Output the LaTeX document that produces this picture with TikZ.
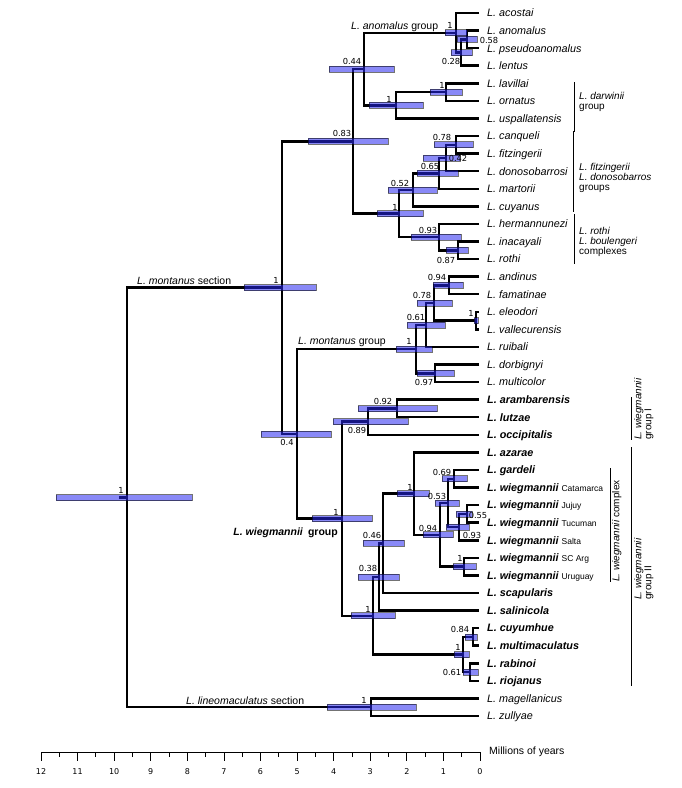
\documentclass[tikz,border=0pt]{standalone}
\usepackage{fontspec}
\setmainfont{Liberation Sans}
\newfontfamily\numfont{DejaVu Sans}
\newcommand\locfont{\fontsize{8.5}{10}\selectfont\upshape\mdseries}
\begin{document}
\begin{tikzpicture}[x=1pt,y=-1pt,
  br/.style={line width=2.5pt, line join=miter},
  bar/.style={fill={rgb,255:red,40;green,40;blue,240}, fill opacity=0.55, draw=black, draw opacity=0.55, line width=0.7pt},
  tip/.style={anchor=west, inner sep=0pt, text height=7.7pt, text depth=0pt, font=\fontsize{10.8}{12}\selectfont\itshape},
  btip/.style={tip, font=\fontsize{10.8}{12}\selectfont\bfseries\itshape},
  pp/.style={inner sep=0pt, text height=6pt, text depth=0pt, font=\numfont\fontsize{8.3}{9}\selectfont},
  glab/.style={inner sep=0pt, anchor=base west, font=\fontsize{10.5}{12}\selectfont},
  side/.style={inner sep=0pt, align=left, font=\fontsize{10}{10}\selectfont},
  bracket/.style={line width=1pt}
]
\useasboundingbox (0,0) rectangle (682,788);
\newcommand\hpd[3]{\draw[bar] (#1,#3-3) rectangle (#2,#3+3);}
% tips
\foreach \i in {0,...,40} {\coordinate (t\i) at (479,13+17.575*\i);}
% internal nodes
\coordinate (C) at (467,39.4);
\coordinate (B) at (461,52.6);
\coordinate (A) at (456,32.8);
\coordinate (D) at (446,92.1);
\coordinate (E) at (396,105.3);
\coordinate (F) at (364,69.0);
\coordinate (G) at (456,144.8);
\coordinate (H) at (446,158.0);
\coordinate (I) at (439,173.4);
\coordinate (J) at (413,189.9);
\coordinate (K) at (458,250.3);
\coordinate (L) at (439,237.1);
\coordinate (M) at (399,213.5);
\coordinate (N) at (353,141.3);
\coordinate (O) at (449,285.4);
\coordinate (P) at (476,320.6);
\coordinate (Q) at (434,303.0);
\coordinate (R) at (426,325.0);
\coordinate (S) at (435,373.3);
\coordinate (T) at (416,349.2);
\coordinate (U) at (397,408.5);
\coordinate (V) at (368,421.6);
\coordinate (W) at (454,478.8);
\coordinate (X) at (467,513.9);
\coordinate (Y) at (459,527.1);
\coordinate (Z) at (448,503.0);
\coordinate (AA) at (464,566.6);
\coordinate (AB) at (440,534.8);
\coordinate (AC) at (414,493.6);
\coordinate (AD) at (383,543.3);
\coordinate (AE) at (379,577.0);
\coordinate (AF) at (473,636.9);
\coordinate (AG) at (470,672.1);
\coordinate (AH) at (463,654.5);
\coordinate (AI) at (373,615.8);
\coordinate (AJ) at (342,518.7);
\coordinate (AK) at (297,434.0);
\coordinate (AL) at (282,287.7);
\coordinate (AM) at (371,707.2);
\coordinate (ROOT) at (127,497.5);
\coordinate (stub) at (119,497.5);
% branches
\draw[br] (t1) -| (C) |- (t2);
\draw[br] (C) -| (B) |- (t3);
\draw[br] (t0) -| (A) |- (B);
\draw[br] (t4) -| (D) |- (t5);
\draw[br] (D) -| (E) |- (t6);
\draw[br] (A) -| (F) |- (E);
\draw[br] (t7) -| (G) |- (t8);
\draw[br] (G) -| (H) |- (t9);
\draw[br] (H) -| (I) |- (t10);
\draw[br] (I) -| (J) |- (t11);
\draw[br] (t13) -| (K) |- (t14);
\draw[br] (t12) -| (L) |- (K);
\draw[br] (J) -| (M) |- (L);
\draw[br] (F) -| (N) |- (M);
\draw[br] (t15) -| (O) |- (t16);
\draw[br] (t17) -| (P) |- (t18);
\draw[br] (O) -| (Q) |- (P);
\draw[br] (Q) -| (R) |- (t19);
\draw[br] (t20) -| (S) |- (t21);
\draw[br] (R) -| (T) |- (S);
\draw[br] (t22) -| (U) |- (t23);
\draw[br] (U) -| (V) |- (t24);
\draw[br] (t26) -| (W) |- (t27);
\draw[br] (t28) -| (X) |- (t29);
\draw[br] (X) -| (Y) |- (t30);
\draw[br] (W) -| (Z) |- (Y);
\draw[br] (t31) -| (AA) |- (t32);
\draw[br] (Z) -| (AB) |- (AA);
\draw[br] (t25) -| (AC) |- (AB);
\draw[br] (AC) -| (AD) |- (t33);
\draw[br] (AD) -| (AE) |- (t34);
\draw[br] (t35) -| (AF) |- (t36);
\draw[br] (t37) -| (AG) |- (t38);
\draw[br] (AF) -| (AH) |- (AG);
\draw[br] (AE) -| (AI) |- (AH);
\draw[br] (V) -| (AJ) |- (AI);
\draw[br] (T) -| (AK) |- (AJ);
\draw[br] (N) -| (AL) |- (AK);
\draw[br] (t39) -| (AM) |- (t40);
\draw[br] (AL) -| (ROOT) |- (AM);
\draw[br] (stub) -- (ROOT);
% HPD bars
\hpd{457}{477}{39.4}
\hpd{451}{472}{52.6}
\hpd{445}{467}{32.8}
\hpd{430}{462}{92.1}
\hpd{369}{423}{105.3}
\hpd{329}{394}{69.0}
\hpd{434}{473}{144.8}
\hpd{423}{460}{158.0}
\hpd{417}{458}{173.4}
\hpd{388}{437}{189.9}
\hpd{446}{468}{250.3}
\hpd{411}{461}{237.1}
\hpd{377}{423}{213.5}
\hpd{308}{388}{141.3}
\hpd{433}{463}{285.4}
\hpd{474}{478}{320.6}
\hpd{417}{452}{303.0}
\hpd{407}{445}{325.0}
\hpd{417}{454}{373.3}
\hpd{396}{432}{349.2}
\hpd{358}{437}{408.5}
\hpd{333}{408}{421.6}
\hpd{442}{467}{478.8}
\hpd{456}{472}{513.9}
\hpd{446}{469}{527.1}
\hpd{435}{459}{503.0}
\hpd{453}{476}{566.6}
\hpd{423}{453}{534.8}
\hpd{397}{429}{493.6}
\hpd{363}{404}{543.3}
\hpd{358}{399}{577.0}
\hpd{465}{477}{636.9}
\hpd{463}{478}{672.1}
\hpd{454}{469}{654.5}
\hpd{351}{395}{615.8}
\hpd{312}{372}{518.7}
\hpd{261}{331}{434.0}
\hpd{244}{316}{287.7}
\hpd{327}{416}{707.2}
\hpd{56}{192}{497.5}
% posterior labels
\node[pp] (pA) at (450,25) {1};
\node[pp] (pC) at (489,40) {0.58};
\node[pp] (pB) at (451,61) {0.28};
\node[pp] (pD) at (442,85) {1};
\node[pp] (pE) at (389,99) {1};
\node[pp] (pF) at (352,61) {0.44};
\node[pp] (pG) at (442,137) {0.78};
\node[pp] (pH) at (458,158) {0.42};
\node[pp] (pI) at (430,166) {0.65};
\node[pp] (pJ) at (400,183) {0.52};
\node[pp] (pK) at (446,260) {0.87};
\node[pp] (pL) at (428,230) {0.93};
\node[pp] (pM) at (395,207) {1};
\node[pp] (pN) at (342,133) {0.83};
\node[pp] (pO) at (437,277) {0.94};
\node[pp] (pP) at (471,313) {1};
\node[pp] (pQ) at (422,295) {0.78};
\node[pp] (pR) at (416,317) {0.61};
\node[pp] (pS) at (424,382) {0.97};
\node[pp] (pT) at (409,341) {1};
\node[pp] (pU) at (383,401) {0.92};
\node[pp] (pV) at (357,430) {0.89};
\node[pp] (pW) at (442,472) {0.69};
\node[pp] (pX) at (478,515) {0.55};
\node[pp] (pY) at (472,535) {0.93};
\node[pp] (pZ) at (437,496) {0.53};
\node[pp] (pAA) at (460,558) {1};
\node[pp] (pAB) at (428,528) {0.94};
\node[pp] (pAC) at (410,487) {1};
\node[pp] (pAD) at (372,535) {0.46};
\node[pp] (pAE) at (368,568) {0.38};
\node[pp] (pAF) at (460,629) {0.84};
\node[pp] (pAG) at (452,672) {0.61};
\node[pp] (pAH) at (458,647) {1};
\node[pp] (pAI) at (368,609) {1};
\node[pp] (pAJ) at (336,512) {1};
\node[pp] (pAK) at (287,442) {0.4};
\node[pp] (pAL) at (276,280) {1};
\node[pp] (pAM) at (364,700) {1};
\node[pp] (pROOT) at (121,490) {1};
% clade labels
\node[glab] (gan) at (351,29) {\textit{L. anomalus} group};
\node[glab] (gms) at (137,284) {\textit{L. montanus} section};
\node[glab] (gmg) at (298,344) {\textit{L. montanus} group};
\node[glab] (gls) at (186,704) {\textit{L. lineomaculatus} section};
\node[glab, anchor=base east, font=\fontsize{10.5}{12}\selectfont\bfseries] (gwg) at (338,535) {\textit{L. wiegmannii}\hspace{5pt}group};
% tip labels
\node[tip] (l0) at (487,13.000) {L. acostai};
\node[tip] (l1) at (487,30.575) {L. anomalus};
\node[tip] (l2) at (487,48.150) {L. pseudoanomalus};
\node[tip] (l3) at (487,65.725) {L. lentus};
\node[tip] (l4) at (487,83.300) {L. lavillai};
\node[tip] (l5) at (487,100.875) {L. ornatus};
\node[tip] (l6) at (487,118.450) {L. uspallatensis};
\node[tip] (l7) at (487,136.025) {L. canqueli};
\node[tip] (l8) at (487,153.600) {L. fitzingerii};
\node[tip] (l9) at (487,171.175) {L. donosobarrosi};
\node[tip] (l10) at (487,188.750) {L. martorii};
\node[tip] (l11) at (487,206.325) {L. cuyanus};
\node[tip] (l12) at (487,223.900) {L. hermannunezi};
\node[tip] (l13) at (487,241.475) {L. inacayali};
\node[tip] (l14) at (487,259.050) {L. rothi};
\node[tip] (l15) at (487,276.625) {L. andinus};
\node[tip] (l16) at (487,294.200) {L. famatinae};
\node[tip] (l17) at (487,311.775) {L. eleodori};
\node[tip] (l18) at (487,329.350) {L. vallecurensis};
\node[tip] (l19) at (487,346.925) {L. ruibali};
\node[tip] (l20) at (487,364.500) {L. dorbignyi};
\node[tip] (l21) at (487,382.075) {L. multicolor};
\node[btip] (l22) at (487,399.650) {L. arambarensis};
\node[btip] (l23) at (487,417.225) {L. lutzae};
\node[btip] (l24) at (487,434.800) {L. occipitalis};
\node[btip] (l25) at (487,452.375) {L. azarae};
\node[btip] (l26) at (487,469.950) {L. gardeli};
\node[btip] (l27) at (487,487.525) {L. wiegmannii {\locfont Catamarca}};
\node[btip] (l28) at (487,505.100) {L. wiegmannii {\locfont Jujuy}};
\node[btip] (l29) at (487,522.675) {L. wiegmannii {\locfont Tucuman}};
\node[btip] (l30) at (487,540.250) {L. wiegmannii {\locfont Salta}};
\node[btip] (l31) at (487,557.825) {L. wiegmannii {\locfont SC Arg}};
\node[btip] (l32) at (487,575.400) {L. wiegmannii {\locfont Uruguay}};
\node[btip] (l33) at (487,592.975) {L. scapularis};
\node[btip] (l34) at (487,610.550) {L. salinicola};
\node[btip] (l35) at (487,628.125) {L. cuyumhue};
\node[btip] (l36) at (487,645.700) {L. multimaculatus};
\node[btip] (l37) at (487,663.275) {L. rabinoi};
\node[btip] (l38) at (487,680.850) {L. riojanus};
\node[tip] (l39) at (487,698.425) {L. magellanicus};
\node[tip] (l40) at (487,716.000) {L. zullyae};
% side brackets
\coordinate (dw1) at (574,82); \coordinate (dw2) at (574,132);
\draw[bracket] (dw1) -- (dw2);
\node[side, anchor=west] (sdw) at (579,102) {\textit{L. darwinii}\\group};
\coordinate (fz1) at (573,131); \coordinate (fz2) at (573,212);
\draw[bracket] (fz1) -- (fz2);
\node[side, anchor=west] (sfz) at (579,178) {\textit{L. fitzingerii}\\\textit{L. donosobarros}\\groups};
\coordinate (rt1) at (574,214); \coordinate (rt2) at (574,264);
\draw[bracket] (rt1) -- (rt2);
\node[side, anchor=west] (srt) at (579,242) {\textit{L. rothi}\\\textit{L. boulengeri}\\complexes};
\coordinate (wc1) at (610,468); \coordinate (wc2) at (610,582);
\draw[bracket] (wc1) -- (wc2);
\node[side, rotate=90, anchor=north west] (swc) at (612,582) {\textit{L. wiegmannii} complex};
\coordinate (w11) at (631,397); \coordinate (w12) at (631,440);
\draw[bracket] (w11) -- (w12);
\node[side, rotate=90, anchor=north west] (sw1) at (634,440) {\textit{L. wiegmannii}\\group I};
\coordinate (w21) at (631,447); \coordinate (w22) at (631,686);
\draw[bracket] (w21) -- (w22);
\node[side, rotate=90, anchor=north west] (sw2) at (634,600) {\textit{L. wiegmannii}\\group II};
% time axis
\coordinate (ax0) at (41,752); \coordinate (ax1) at (480,752);
\draw[line width=0.8pt] (ax0) -- (ax1);
\foreach \t in {0,...,12} {
  \draw[line width=0.8pt] ({480-36.583*\t},752) -- ++(0,9);
  \node[pp, font=\numfont\fontsize{8}{9}\selectfont] (ax\t) at ({480-36.583*\t},771) {\t};
}
\foreach \t in {0.5,1.5,...,11.5} {
  \draw[line width=0.8pt] ({480-36.583*\t},752) -- ++(0,5);
}
\node[glab, anchor=west, font=\fontsize{10.5}{12}\selectfont] (myr) at (489,752) {Millions of years};
\end{tikzpicture}
\end{document}
